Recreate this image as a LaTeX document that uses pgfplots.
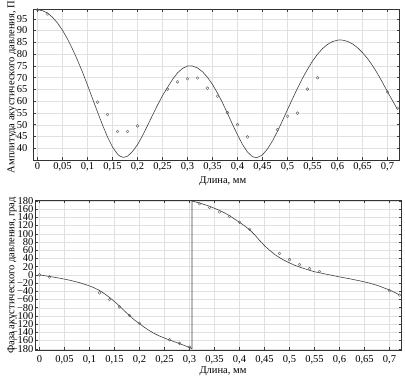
\documentclass[border=0pt]{standalone}
\usepackage{pgfplots}
\pgfplotsset{compat=1.18}
\usepackage{fontspec}
\setmainfont{Liberation Serif}
\pgfplotsset{
  common/.style={
    scale only axis, anchor=south west, width=365.5pt,
    xmin=-0.008, xmax=0.723,
    xtick={0,0.05,0.1,0.15,0.2,0.25,0.3,0.35,0.4,0.45,0.5,0.55,0.6,0.65,0.7},
    xticklabels={0,{0,05},{0,1},{0,15},{0,2},{0,25},{0,3},{0,35},{0,4},{0,45},{0,5},{0,55},{0,6},{0,65},{0,7}},
    /pgf/number format/assume math mode=true,
    font=\fontsize{10.5}{12}\selectfont,
    tick label style={font=\fontsize{10.5}{12}\selectfont},
    grid=major, major grid style={black!12, line width=0.3pt},
    tick align=inside, major tick length=2.5pt,
    tick style={black!75, line width=0.4pt},
    axis line style={black!80, line width=0.5pt},
    clip=false,
    xlabel={Длина, мм},
  },
  curve/.style={black!75, line width=0.6pt, no marks},
  pts/.style={only marks, mark=o, mark size=1.4pt, mark options={black!60, line width=0.4pt}},
}
\begin{document}
\begin{tikzpicture}
\begin{axis}[common, at={(33.5pt,219pt)}, height=150.7pt,
  ymin=35, ymax=99, ytick={40,45,...,95},
  ylabel={Амплитуда акустического давления, Па},
  ylabel style={at={(axis description cs:-0.0588,0.5)}, anchor=center},
  xlabel style={at={(axis description cs:0.518,-0.139)}, anchor=center},
  xticklabel style={yshift=1.5pt},
  yticklabel style={xshift=-2.5pt},
]
\addplot[curve] coordinates {
(0,98.8)(0.01,98.4)(0.02,97.4)(0.03,95.6)(0.04,93.2)(0.05,90.1)(0.06,86.4)(0.07,82.1)(0.08,77.4)(0.09,72.3)(0.10,66.8)(0.11,61.1)(0.12,55.4)(0.13,49.9)(0.14,44.8)(0.15,40.5)(0.16,37.5)(0.165,36.6)(0.172,36.1)(0.18,36.6)(0.19,38.6)(0.20,41.5)(0.21,45.3)(0.22,49.6)(0.23,54.0)(0.24,58.3)(0.25,62.3)(0.26,65.8)(0.27,69.2)(0.28,72.0)(0.29,73.9)(0.30,74.9)(0.305,75.0)(0.31,74.9)(0.32,74.1)(0.33,72.5)(0.34,70.1)(0.35,67.1)(0.36,63.4)(0.37,59.3)(0.38,54.8)(0.39,50.1)(0.40,45.7)(0.41,41.6)(0.42,38.4)(0.43,36.4)(0.437,36.0)(0.44,36.1)(0.45,37.2)(0.46,39.7)(0.47,43.1)(0.48,47.2)(0.49,51.7)(0.50,56.4)(0.51,61.0)(0.52,65.5)(0.53,69.7)(0.54,73.5)(0.55,77.0)(0.56,79.9)(0.57,82.3)(0.58,84.1)(0.59,85.3)(0.60,85.9)(0.605,86.0)(0.61,85.9)(0.62,85.4)(0.63,84.3)(0.64,82.7)(0.65,80.6)(0.66,78.1)(0.67,75.1)(0.68,71.7)(0.69,67.9)(0.70,64.0)(0.71,60.2)(0.72,56.5)
};
\addplot[pts] coordinates {
(0,98.8)(0.02,97)(0.12,59.6)(0.14,54.3)(0.16,47.1)(0.18,47.1)(0.2,49.5)(0.26,65.1)(0.28,68.2)(0.3,69.5)(0.32,69.8)(0.34,65.5)(0.36,62.1)(0.38,55.1)(0.4,50)(0.42,44.8)(0.48,47.9)(0.5,53.6)(0.52,54.9)(0.54,65.1)(0.56,69.9)(0.70,63.9)(0.72,57)
};
\end{axis}
\begin{axis}[common, at={(35.5pt,29pt)}, height=149.5pt,
  ymin=-183, ymax=181,
  ytick={-180,-160,-140,-120,-100,-80,-60,-40,-20,0,20,40,60,80,100,120,140,160,180},
  yticklabels={−180,−160,−140,−120,−100,−80,−60,−40,−20,0,20,40,60,80,100,120,140,160,180},
  ylabel={Фаза акустического давления, град},
  ylabel style={at={(axis description cs:-0.0643,0.5)}, anchor=center},
  xlabel style={at={(axis description cs:0.513,-0.145)}, anchor=center},
  xticklabel style={yshift=-2pt},
  yticklabel style={xshift=1.5pt},
]
\addplot[curve] coordinates {
(0,0)(0.02,-4)(0.04,-8)(0.06,-13)(0.08,-19)(0.10,-27)(0.11,-32)(0.12,-38)(0.13,-46)(0.14,-55)(0.15,-65)(0.16,-76)(0.17,-88)(0.18,-99)(0.19,-110)(0.20,-119)(0.21,-128)(0.22,-136)(0.23,-143)(0.24,-149)(0.25,-154)(0.26,-158.5)(0.27,-163)(0.28,-167.5)(0.29,-172)(0.30,-177)(0.305,-180)(0.305,180)(0.31,178)(0.32,175)(0.33,171)(0.34,167)(0.35,162)(0.36,157)(0.37,151)(0.38,144)(0.39,136)(0.40,128)(0.41,119.5)(0.42,110)(0.43,98)(0.44,84)(0.45,71)(0.46,60)(0.47,50)(0.48,42)(0.49,35)(0.50,29)(0.51,23.5)(0.52,19)(0.53,15)(0.54,11)(0.55,7.5)(0.56,5)(0.58,0)(0.60,-5)(0.62,-9.5)(0.64,-14.5)(0.66,-20)(0.68,-27.5)(0.70,-37)(0.71,-42.5)(0.72,-49)
};
\addplot[pts] coordinates {
(0,0)(0.02,-5)(0.12,-44)(0.14,-60)(0.16,-78)(0.18,-99)(0.2,-118)(0.26,-158)(0.28,-167)(0.30,-176)(0.32,173)(0.34,164)(0.36,153)(0.38,142)(0.40,128)(0.42,111)(0.48,52)(0.50,37)(0.52,25)(0.54,15)(0.56,8)(0.70,-38.5)(0.72,-49)
};
\end{axis}
\pgfresetboundingbox
\path[use as bounding box] (0pt,0pt) rectangle (405pt,379pt);
\end{tikzpicture}
\end{document}
